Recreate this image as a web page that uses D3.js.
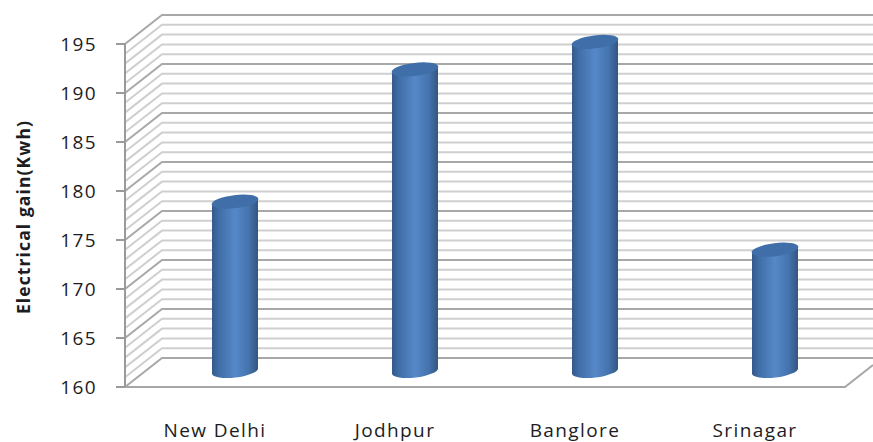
<!DOCTYPE html>
<html>
<head>
<meta charset="utf-8">
<script src="https://cdnjs.cloudflare.com/ajax/libs/d3/7.8.5/d3.min.js"></script>
<style>
  html, body { margin: 0; padding: 0; background: #fff; overflow: hidden; }
  svg { display: block; }
  text { font-family: "Open Sans", "Noto Sans", sans-serif; fill: #1c1c22; }
</style>
</head>
<body>
<svg id="chart" width="873" height="442"></svg>
<script>
const cities = ["New Delhi", "Jodhpur", "Banglore", "Srinagar"];
const gains = [178.3, 191.8, 194.6, 173.4];
const majorTicks = [160, 165, 170, 175, 180, 185, 190, 195];
const minorTicks = d3.range(160, 196);
const axisTitle = "Electrical gain(Kwh)";

const svg = d3.select("#chart");
const depthX = 37, depthY = 29;

const y = d3.scaleLinear().domain([160, 195]).range([387, 44]);
const x = d3.scaleBand().domain(cities).range([125, 845]);

// Cylinder shading runs dark, light, dark across the width
const grad = svg.append("defs").append("linearGradient").attr("id", "cyl");
[[0, "#35598a"], [0.14, "#3f6da6"], [0.5, "#5688c8"], [0.8, "#4473ad"], [1, "#345681"]]
  .forEach(([o, c]) => grad.append("stop").attr("offset", o).attr("stop-color", c));

// Side wall and back wall gridlines, one per unit
const grid = svg.append("g").attr("fill", "none");
minorTicks.forEach(t => {
  const major = t % 5 === 0;
  const stroke = major ? "#a8a8a8" : "#cfcfcf";
  const yy = y(t);
  grid.append("path")
    .attr("d", d3.line()([[125, yy], [125 + depthX, yy - depthY], [873, yy - depthY]]))
    .attr("stroke", stroke)
    .attr("stroke-width", 2);
});

// Floor edges
grid.append("path")
  .attr("d", d3.line()([[125, y(160)], [845, y(160)], [873, y(160) - 22]]))
  .attr("stroke", "#a6a6a6").attr("stroke-width", 2);

// Vertical axis with outward ticks
grid.append("line")
  .attr("x1", 125).attr("x2", 125).attr("y1", y(195)).attr("y2", y(160))
  .attr("stroke", "#9a9a9a").attr("stroke-width", 2);
majorTicks.forEach(t => {
  grid.append("line")
    .attr("x1", 116).attr("x2", 125).attr("y1", y(t)).attr("y2", y(t))
    .attr("stroke", "#9a9a9a").attr("stroke-width", 2);
  svg.append("text")
    .attr("x", 97).attr("y", y(t) + 7)
    .attr("text-anchor", "end")
    .attr("font-size", 19)
    .attr("letter-spacing", 1.4)
    .text(t);
});

// Cylinders stand partway into the floor, tilted slightly toward the viewer
const rx = 23, ry = 6.5, tilt = -7;
const rise = Math.sin(-tilt * Math.PI / 180) * rx;
const bars = svg.append("g").selectAll("g").data(cities).join("g");

bars.each(function (city, i) {
  const g = d3.select(this);
  const cx = x(city) + x.bandwidth() / 2 + 20;
  const baseY = y(160) - 16;
  const topY = y(gains[i]) - 6;
  g.append("path")
    .attr("d", `M${cx - rx},${topY + rise} L${cx - rx},${baseY + rise} ` +
               `A${rx},${ry} ${tilt} 0 0 ${cx + rx},${baseY - rise} ` +
               `L${cx + rx},${topY - rise} Z`)
    .attr("fill", "url(#cyl)");
  g.append("ellipse")
    .attr("cx", cx).attr("cy", topY)
    .attr("rx", rx + 0.5).attr("ry", ry)
    .attr("transform", `rotate(${tilt} ${cx} ${topY})`)
    .attr("fill", "#3f6ea8");
});

// Category labels under the floor
svg.append("g").selectAll("text").data(cities).join("text")
  .attr("x", d => x(d) + x.bandwidth() / 2)
  .attr("y", 437)
  .attr("text-anchor", "middle")
  .attr("font-size", 19)
  .attr("letter-spacing", 1.4)
  .text(d => d);

svg.append("text")
  .attr("transform", "translate(30,217) rotate(-90)")
  .attr("text-anchor", "middle")
  .attr("font-size", 17.5)
  .attr("font-weight", 700)
  .attr("letter-spacing", 1.1)
  .text(axisTitle);
</script>
</body>
</html>
